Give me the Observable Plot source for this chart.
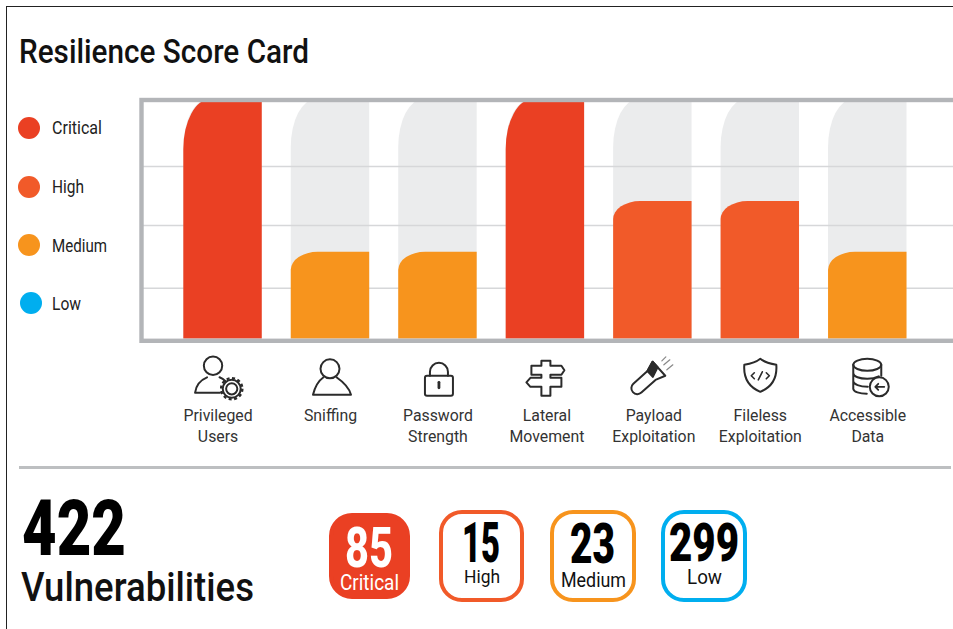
<!DOCTYPE html>
<html><head><meta charset="utf-8">
<script src="https://cdn.jsdelivr.net/npm/d3@7"></script>
<script src="https://cdn.jsdelivr.net/npm/@observablehq/plot@0.6"></script>
<style>
html,body{margin:0;padding:0;background:#fff}
#page{position:relative;width:953px;height:629px;overflow:hidden;font-family:"Roboto",sans-serif;color:#111}
.abs{position:absolute;white-space:nowrap}
#chart{position:absolute;left:0;top:85px}
.badge{position:absolute;box-sizing:border-box;border-radius:23px;background:#fff;border-style:solid;border-width:4px}
.dot{position:absolute;width:22px;height:22px;border-radius:50%}
.fit{position:absolute;white-space:nowrap;transform-origin:0 0}
</style></head><body>
<div id="page">
  <div class="abs" style="left:6px;top:6px;width:960px;height:640px;border-left:1.6px solid #222;border-top:1.6px solid #222"></div>
  <div id="legend"></div>
  <div id="chart"></div>
  <div class="abs" style="left:19px;top:466px;width:932px;height:3px;background:#bdbfc1"></div>
  <div id="badges"></div>
  <div id="texts"></div>
</div>
<script>
const categories = ["Privileged\nUsers","Sniffing","Password\nStrength","Lateral\nMovement","Payload\nExploitation","Fileless\nExploitation","Accessible\nData"];
const scores = [100,36.2,36.2,100,57.4,57.4,36.2];
const severities = ["Critical","Medium","Medium","Critical","High","High","Medium"];
const levels = ["Critical","High","Medium","Low"];
const levelColors = ["#ea4023","#f15a29","#f7941d","#00aeef"];
const counts = [85,15,23,299];
const totalCount = 422;
const gridValues = [21.2,47.4,72];
const trackValue = [100,100,100,100,100,100,100];

const rows = categories.map((c,i)=>({category:c,score:scores[i],severity:severities[i]}));
const tracks = categories.map((c,i)=>({category:c,score:trackValue[i]}));

const svgIcon = body => "data:image/svg+xml," + encodeURIComponent(
  `<svg xmlns="http://www.w3.org/2000/svg" viewBox="-8 -8 60 60" width="60" height="60"><g fill="none" stroke="#2b2b2b" stroke-width="2" stroke-linejoin="round" stroke-linecap="round">${body}</g></svg>`);
const icons = [
  `<circle cx="12" cy="10" r="9.2"/><path d="M19 37H-6C-5 29 0 24 6 21.5M18.5 21.5C21 22.5 23 24 24.5 25.5"/><circle cx="30.7" cy="33" r="5.6"/><circle cx="30.7" cy="33" r="9"/><circle cx="30.7" cy="33" r="10.6" stroke-dasharray="3 2.55" stroke-width="2.4" stroke-linecap="butt"/>`,
  `<circle cx="21.5" cy="13" r="9.5"/><path d="M15 21.5C10 25 6.5 31 4.5 39H42.5C40.5 31 33 25 28 21.5"/>`,
  `<rect x="9" y="20" width="28" height="20" rx="2"/><path d="M14 20V16a9 9 0 0 1 18 0V20"/><path d="M23 26.5V32" stroke-width="2.8"/>`,
  `<path d="M18 5H27V10H38L41 14.5L38 19H27V22H38V31H27V40H18V31H7L3 26.5L7 22H18V19H8V10H18Z"/>`,
  `<g transform="translate(8 31) rotate(-42)"><path d="M-2 -6H17L27 -9.5V9.5L17 6H-2A6 6 0 0 1 -2 -6Z"/><path d="M17 -6L27 -9.5V-2L17 2Z" fill="#2b2b2b"/></g><path d="M33 9L39 4M36 14L42 9M31 5L35 1" stroke-width="1.2" stroke="#888"/>`,
  `<path d="M22 3C27 7 32 8 38 9C39 22 34 31 22 36C10 31 5 22 6 9C12 8 17 7 22 3Z"/><path d="M16 17L13 20L16 23M28 17L31 20L28 23M24 16L20 24" stroke-width="1.6"/>`,
  `<ellipse cx="21.5" cy="9" rx="14" ry="6"/><path d="M7.5 9V33C7.5 36 14 38 21 38M35.5 9V20M7.5 17C7.5 21 14 23 21.5 23C26 23 30 22 33 20.5M7.5 25C7.5 28.5 14 31 22 31"/><circle cx="33.5" cy="31" r="9.5"/><path d="M38.5 31H29.5M32.5 28L29.5 31L32.5 34" stroke-width="1.8"/>`
];
const iconRows = categories.map((c,i)=>({category:c,src:svgIcon(icons[i])}));

// Rounded top corners with separate horizontal and vertical radii.
const roundTop = (rx, ryTall, ryShort) => (index, scales, values, dim, ctx, next) => {
  const g = next(index, scales, values, dim, ctx);
  d3.select(g).selectAll("rect").each(function(){
    const x=+this.getAttribute("x"), y=+this.getAttribute("y"), w=+this.getAttribute("width"), h=+this.getAttribute("height");
    const ry = h>150 ? ryTall : ryShort;
    const p = document.createElementNS("http://www.w3.org/2000/svg","path");
    p.setAttribute("d",`M${x},${y+h}V${y+ry}A${rx},${ry} 0 0 1 ${x+rx},${y}H${x+w}V${y+h}Z`);
    if (this.getAttribute("fill")) p.setAttribute("fill",this.getAttribute("fill"));
    this.replaceWith(p);
  });
  return g;
};

const top0 = 85;
const plot = Plot.plot({
  width:953, height:375,
  marginLeft:141, marginRight:-12, marginTop:99.5-top0, marginBottom:375-(340.3-top0),
  x:{domain:categories, range:[154.3,935.5], padding:0.27, round:false, label:null},
  y:{domain:[0,100], range:[338.5-top0,99-top0], axis:null},
  color:{domain:levels, range:levelColors},
  style:{background:"transparent",fontFamily:'"Roboto",sans-serif',overflow:"hidden"},
  marks:[
    Plot.barY(tracks,{x:"category",y:"score",fill:"#ebeced",render:roundTop(25,48,18)}),
    Plot.ruleY(gridValues,{stroke:"#d6d7d9",strokeWidth:1.4}),
    Plot.barY(rows,{x:"category",y:"score",fill:"severity",render:roundTop(27,50,18)}),
    Plot.frame({stroke:"#b3b5b8",strokeWidth:4.4}),
    Plot.image(iconRows,{x:"category",src:"src",frameAnchor:"bottom",dy:37,width:60,height:60}),
    Plot.axisX({tickSize:0,tickPadding:66,fontSize:16.5,lineHeight:1.23,lineWidth:100,label:null,fill:"#333",textAnchor:"middle"})
  ]
});
document.getElementById("chart").append(plot);
// Narrow the tick labels; the first and fourth sit slightly off their band centres.
const labelNudge=[-5,0,0,1.5,1,0,0];
d3.select(plot).selectAll('[aria-label="x-axis tick label"] text').each(function(_,i){
  this.setAttribute("transform",(this.getAttribute("transform")||"")+` translate(${labelNudge[i]||0},0) scale(0.96,1)`);
});

// Text with a condensed look: placed by its left edge, right edge and baseline.
const texts=document.getElementById("texts");
function place(text,x0,x1,baseline,fs,weight,color){
  const s=document.createElement("div");s.className="fit";s.textContent=text;
  s.style.cssText=`left:${x0}px;top:${baseline-0.741*fs}px;font-size:${fs}px;line-height:${0.8*fs}px;font-weight:${weight};color:${color}`;
  texts.append(s);
  s.style.transform=`scaleX(${(x1-x0)/s.getBoundingClientRect().width})`;
}
place("Resilience Score Card",19,309,63,33,500,"#111");
place(String(totalCount),22,126,556,77,900,"#000");
place("Vulnerabilities",21,254,601,40.5,500,"#111");

const legendY=[128.3,187,245,303], legendX=[29,29,29,31];
const legendRight=[102,84,107,81], legendBase=[134,193,251.5,309.5];
const legend=document.getElementById("legend");
levels.forEach((l,i)=>{
  const d=document.createElement("div");d.className="dot";
  d.style.cssText=`left:${legendX[i]-11}px;top:${legendY[i]-11}px;background:${levelColors[i]}`;
  legend.append(d);
  place(l,52,legendRight[i],legendBase[i],17.5,400,"#222");
});

const badgeBox=[[329,410,513,599],[439,524,510,602],[550,636,510,602],[661,747,510,602]];
const numBox=[[345,393,567,56],[462,500,562,55],[570,615,563,55],[669,739,561,53]];
const labBox=[[340,399,590,22],[464,500,583,19],[561,626,587,20],[687,722,584,19.5]];
const badges=document.getElementById("badges");
levels.forEach((l,i)=>{
  const b=document.createElement("div");b.className="badge";
  const [x0,x1,y0,y1]=badgeBox[i];
  b.style.cssText=`left:${x0}px;top:${y0}px;width:${x1-x0}px;height:${y1-y0}px;border-color:${levelColors[i]};`+(i===0?`background:${levelColors[i]}`:"");
  badges.append(b);
  const c=i===0?"#fff":"#000";
  place(String(counts[i]),numBox[i][0],numBox[i][1],numBox[i][2],numBox[i][3],i===0?800:900,c);
  place(l,labBox[i][0],labBox[i][1],labBox[i][2],labBox[i][3],400,i===0?"#fff":"#111");
});
</script>
</body></html>
